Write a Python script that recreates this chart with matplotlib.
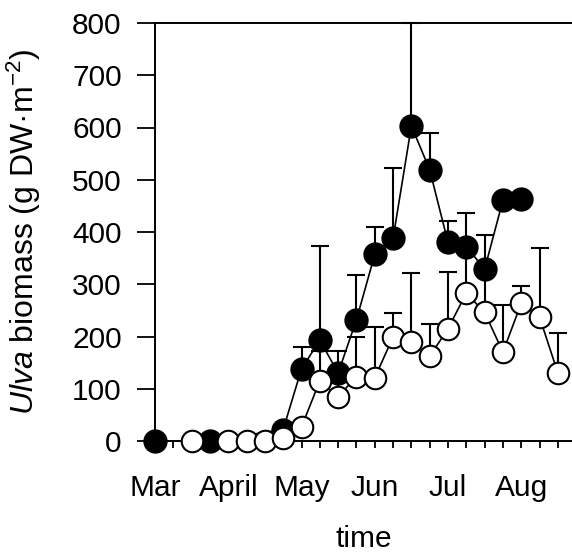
import numpy as np
import matplotlib
matplotlib.use("Agg")
import matplotlib.pyplot as plt

plt.rcParams['font.family'] = ['Liberation Sans', 'DejaVu Sans']
plt.rcParams['mathtext.fontset'] = 'custom'
plt.rcParams['mathtext.rm'] = 'Liberation Sans'
plt.rcParams['mathtext.it'] = 'Liberation Sans:italic'

# Weekly sampling index (week 0 = start of March)
filled_week = [0, 3, 7, 8, 9, 10, 11, 12, 13, 14, 15, 16, 17, 18, 19, 20]
filled_mean = [0, 0, 22, 138, 193, 130, 232, 357, 388, 603, 519, 380, 372, 329, 461, 463]
filled_err = [0, 0, 0, 42, 180, 42, 86, 53, 134, 197, 70, 41, 64, 65, 0, 0]

open_week = [2, 4, 5, 6, 7, 8, 9, 10, 11, 12, 13, 14, 15, 16, 17, 18, 19, 20, 21, 22]
open_mean = [0, 0, 0, 0, 5, 27, 115, 85, 123, 121, 199, 189, 162, 215, 283, 246, 170, 264, 237, 130]
open_err = [0, 0, 0, 0, 0, 0, 57, 50, 77, 98, 46, 132, 62, 108, 75, 80, 90, 33, 132, 77]

month_labels = ['Mar', 'April', 'May', 'Jun', 'Jul', 'Aug']
month_weeks = [0, 4, 8, 12, 16, 20]
y_ticks = [0, 100, 200, 300, 400, 500, 600, 700, 800]

fig = plt.figure(figsize=(5.72, 5.59), dpi=100)
ax = fig.add_axes([155 / 572, 1 - 441 / 559, 1 - 155 / 572, (441 - 23) / 559])

lw_axis = 1.4
ms = 16
mew = 1.5

# Filled series: error bars (upper only), connecting line, markers
fz = np.zeros(len(filled_err))
ax.errorbar(filled_week, filled_mean, yerr=[fz, filled_err], fmt='none',
            ecolor='black', elinewidth=1.5, capsize=6.5, capthick=1.5,
            zorder=2, clip_on=False)
ax.plot(filled_week, filled_mean, color='black', lw=1.2, zorder=3, clip_on=False)
ax.plot(filled_week, filled_mean, ls='none', marker='o', ms=ms, mfc='black',
        mec='black', mew=mew, zorder=4, clip_on=False)

# Open series drawn on top
oz = np.zeros(len(open_err))
ax.errorbar(open_week, open_mean, yerr=[oz, open_err], fmt='none',
            ecolor='black', elinewidth=1.5, capsize=6.5, capthick=1.5,
            zorder=5, clip_on=False)
ax.plot(open_week, open_mean, color='black', lw=1.2, zorder=6, clip_on=False)
ax.plot(open_week, open_mean, ls='none', marker='o', ms=ms - 0.5, mfc='white',
        mec='black', mew=mew, zorder=7, clip_on=False)

ax.set_xlim(0, 22.77)
ax.set_ylim(0, 800)

ax.spines['right'].set_visible(False)
for s in ['left', 'top', 'bottom']:
    ax.spines[s].set_linewidth(lw_axis)
    ax.spines[s].set_zorder(1)

ax.set_yticks(y_ticks)
ax.set_yticklabels([str(v) for v in y_ticks])
weeks = list(range(23))
xlabels = ['' for _ in weeks]
for w, m in zip(month_weeks, month_labels):
    xlabels[w] = m
ax.set_xticks(weeks)
ax.set_xticklabels(xlabels)

ax.tick_params(axis='y', direction='out', length=13, width=1.3, pad=11,
               labelsize=21.5)
ax.tick_params(axis='x', direction='out', length=5, width=1.3, pad=19,
               labelsize=21.5)

ax.set_ylabel(r'$\mathit{Ulva}$ biomass (g DW·m$^{-2}$)', fontsize=23)
ax.yaxis.set_label_coords(-0.2686, 0.5)
ax.set_xlabel('time', fontsize=21.5)
ax.xaxis.set_label_coords(0.5, -0.2)

fig.savefig('out.png', dpi=100)
